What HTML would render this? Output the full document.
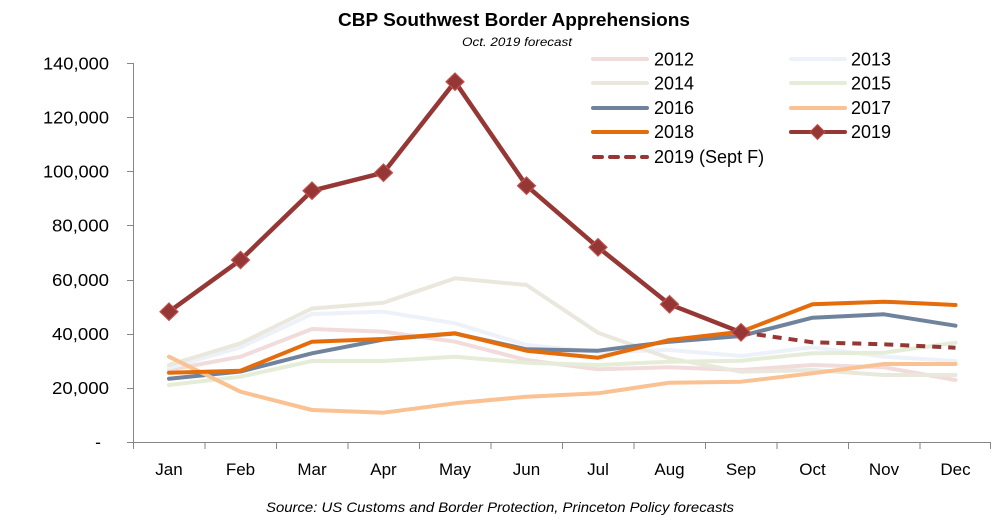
<!DOCTYPE html>
<html>
<head>
<meta charset="utf-8">
<style>
  html,body{margin:0;padding:0;background:#fff;}
  svg{display:block;}
  text{font-family:"Liberation Sans",sans-serif;fill:#000;}
</style>
</head>
<body>
<svg width="1000" height="527" viewBox="0 0 1000 527" xmlns="http://www.w3.org/2000/svg">
  <rect width="1000" height="527" fill="#fff"/>
  <!-- Title -->
  <text x="514" y="26" text-anchor="middle" font-size="18" font-weight="bold" textLength="352" lengthAdjust="spacingAndGlyphs">CBP Southwest Border Apprehensions</text>
  <text x="517" y="46" text-anchor="middle" font-size="12" font-style="italic" textLength="110" lengthAdjust="spacingAndGlyphs">Oct. 2019 forecast</text>

  <!-- Axes -->
  <g stroke="#868686" stroke-width="1" fill="none">
    <line x1="133.5" y1="63" x2="133.5" y2="442.5"/>
    <line x1="133" y1="442.5" x2="991" y2="442.5"/>
    <!-- y ticks -->
    <line x1="127" y1="63.5" x2="133.5" y2="63.5"/>
    <line x1="127" y1="117.5" x2="133.5" y2="117.5"/>
    <line x1="127" y1="171.5" x2="133.5" y2="171.5"/>
    <line x1="127" y1="225.5" x2="133.5" y2="225.5"/>
    <line x1="127" y1="280.5" x2="133.5" y2="280.5"/>
    <line x1="127" y1="334.5" x2="133.5" y2="334.5"/>
    <line x1="127" y1="388.5" x2="133.5" y2="388.5"/>
    <line x1="127" y1="442.5" x2="133.5" y2="442.5"/>
    <!-- x ticks -->
    <line x1="133.5" y1="442" x2="133.5" y2="449"/>
    <line x1="205" y1="442" x2="205" y2="449"/>
    <line x1="276.5" y1="442" x2="276.5" y2="449"/>
    <line x1="348" y1="442" x2="348" y2="449"/>
    <line x1="419.5" y1="442" x2="419.5" y2="449"/>
    <line x1="491" y1="442" x2="491" y2="449"/>
    <line x1="562.5" y1="442" x2="562.5" y2="449"/>
    <line x1="634" y1="442" x2="634" y2="449"/>
    <line x1="705.5" y1="442" x2="705.5" y2="449"/>
    <line x1="777" y1="442" x2="777" y2="449"/>
    <line x1="848.5" y1="442" x2="848.5" y2="449"/>
    <line x1="920" y1="442" x2="920" y2="449"/>
    <line x1="990.5" y1="442" x2="990.5" y2="449"/>
  </g>

  <!-- Y labels -->
  <g font-size="17.5" text-anchor="end">
    <text x="109" y="69.5" textLength="66" lengthAdjust="spacingAndGlyphs">140,000</text>
    <text x="109" y="123.5" textLength="66" lengthAdjust="spacingAndGlyphs">120,000</text>
    <text x="109" y="177.5" textLength="66" lengthAdjust="spacingAndGlyphs">100,000</text>
    <text x="109" y="231.5" textLength="57" lengthAdjust="spacingAndGlyphs">80,000</text>
    <text x="109" y="286" textLength="57" lengthAdjust="spacingAndGlyphs">60,000</text>
    <text x="109" y="340" textLength="57" lengthAdjust="spacingAndGlyphs">40,000</text>
    <text x="109" y="394" textLength="57" lengthAdjust="spacingAndGlyphs">20,000</text>
    <text x="101" y="448">-</text>
  </g>

  <!-- X labels -->
  <g font-size="17" text-anchor="middle">
    <text x="169" y="475">Jan</text>
    <text x="240.5" y="475">Feb</text>
    <text x="312" y="475">Mar</text>
    <text x="383.5" y="475">Apr</text>
    <text x="455" y="475">May</text>
    <text x="526.5" y="475">Jun</text>
    <text x="598" y="475">Jul</text>
    <text x="669.5" y="475">Aug</text>
    <text x="741" y="475">Sep</text>
    <text x="812.5" y="475">Oct</text>
    <text x="884" y="475">Nov</text>
    <text x="955.5" y="475">Dec</text>
  </g>

  <!-- Source -->
  <text x="500" y="512" text-anchor="middle" font-size="14" font-style="italic" textLength="468" lengthAdjust="spacingAndGlyphs">Source: US Customs and Border Protection, Princeton Policy forecasts</text>

  <!-- Series -->
  <g fill="none" stroke-width="4" stroke-linejoin="round" stroke-linecap="round">
    <!-- 2012 -->
    <polyline stroke="#f2dcdb" points="169,370 240.5,356.7 312,329 383.5,331.7 455,341.7 526.5,360 598,369.3 669.5,367.3 741,370 812.5,365 884,367.3 955.5,380"/>
    <!-- 2013 -->
    <polyline stroke="#edf1f9" points="169,368 240.5,347.3 312,314 383.5,311.7 455,323.3 526.5,345 598,352 669.5,350 741,356 812.5,347.3 884,356.7 955.5,361"/>
    <!-- 2014 -->
    <polyline stroke="#eae8dd" points="169,365 240.5,343.3 312,308.5 383.5,302.7 455,278.3 526.5,285 598,332.7 669.5,358.3 741,371.7 812.5,370 884,375 955.5,375"/>
    <!-- 2015 -->
    <polyline stroke="#e5edd8" points="169,385 240.5,376.7 312,361 383.5,361 455,356.7 526.5,362.7 598,365 669.5,361.7 741,360.7 812.5,353.3 884,352.7 955.5,342.7"/>
    <!-- 2016 -->
    <polyline stroke="#6f849c" points="169,378.7 240.5,371.5 312,353.3 383.5,339.5 455,333.5 526.5,349.3 598,350.7 669.5,341.7 741,336 812.5,317.7 884,314.3 955.5,325.7"/>
    <!-- 2017 -->
    <polyline stroke="#fac192" points="169,356.7 240.5,391.7 312,410 383.5,412.7 455,403.3 526.5,396.7 598,393.3 669.5,382.7 741,381.7 812.5,373.3 884,364 955.5,364"/>
    <!-- 2018 -->
    <polyline stroke="#e46c0a" points="169,372.7 240.5,370.7 312,341.7 383.5,339 455,333.3 526.5,350.7 598,357.7 669.5,340 741,331.7 812.5,304.3 884,301.7 955.5,305"/>
    <!-- 2019 forecast dashed -->
    <polyline stroke="#953735" stroke-dasharray="9,7" stroke-linecap="butt" points="741,332.3 812.5,342.3 884,344.3 955.5,347.7"/>
    <!-- 2019 -->
    <polyline stroke="#953735" stroke-width="4.5" points="169,311.7 240.5,260 312,190.7 383.5,172.7 455,81.7 526.5,185.7 598,247.3 669.5,304.3 741,332.3"/>
  </g>
  <!-- 2019 markers -->
  <g fill="#953735" stroke="#c0504d" stroke-width="1.2">
    <polygon points="169,303 178,311.7 169,320.4 160,311.7"/>
    <polygon points="240.5,251.3 249.5,260 240.5,268.7 231.5,260"/>
    <polygon points="312,182 321,190.7 312,199.4 303,190.7"/>
    <polygon points="383.5,164 392.5,172.7 383.5,181.4 374.5,172.7"/>
    <polygon points="455,73 464,81.7 455,90.4 446,81.7"/>
    <polygon points="526.5,177 535.5,185.7 526.5,194.4 517.5,185.7"/>
    <polygon points="598,238.6 607,247.3 598,256 589,247.3"/>
    <polygon points="669.5,295.6 678.5,304.3 669.5,313 660.5,304.3"/>
    <polygon points="741,323.6 750,332.3 741,341 732,332.3"/>
  </g>

  <!-- Legend -->
  <g fill="none" stroke-width="4" stroke-linecap="round">
    <line x1="593" y1="59" x2="647" y2="59" stroke="#f2dcdb"/>
    <line x1="791" y1="59" x2="845" y2="59" stroke="#edf1f9"/>
    <line x1="593" y1="83" x2="647" y2="83" stroke="#eae8dd"/>
    <line x1="791" y1="83" x2="845" y2="83" stroke="#e5edd8"/>
    <line x1="593" y1="108" x2="647" y2="108" stroke="#6f849c"/>
    <line x1="791" y1="108" x2="845" y2="108" stroke="#fac192"/>
    <line x1="593" y1="132" x2="647" y2="132" stroke="#e46c0a"/>
    <line x1="791" y1="132" x2="845" y2="132" stroke="#953735"/>
    <line x1="594" y1="157" x2="647" y2="157" stroke="#953735" stroke-dasharray="8,8"/>
  </g>
  <polygon points="817.5,124.5 825,132 817.5,139.5 810,132" fill="#953735" stroke="#c0504d" stroke-width="1"/>
  <g font-size="18">
    <text x="654" y="65.5">2012</text>
    <text x="851" y="65.5">2013</text>
    <text x="654" y="89.5">2014</text>
    <text x="851" y="89.5">2015</text>
    <text x="654" y="114">2016</text>
    <text x="851" y="114">2017</text>
    <text x="654" y="138">2018</text>
    <text x="851" y="138">2019</text>
    <text x="654" y="163">2019 (Sept F)</text>
  </g>
</svg>
</body>
</html>
